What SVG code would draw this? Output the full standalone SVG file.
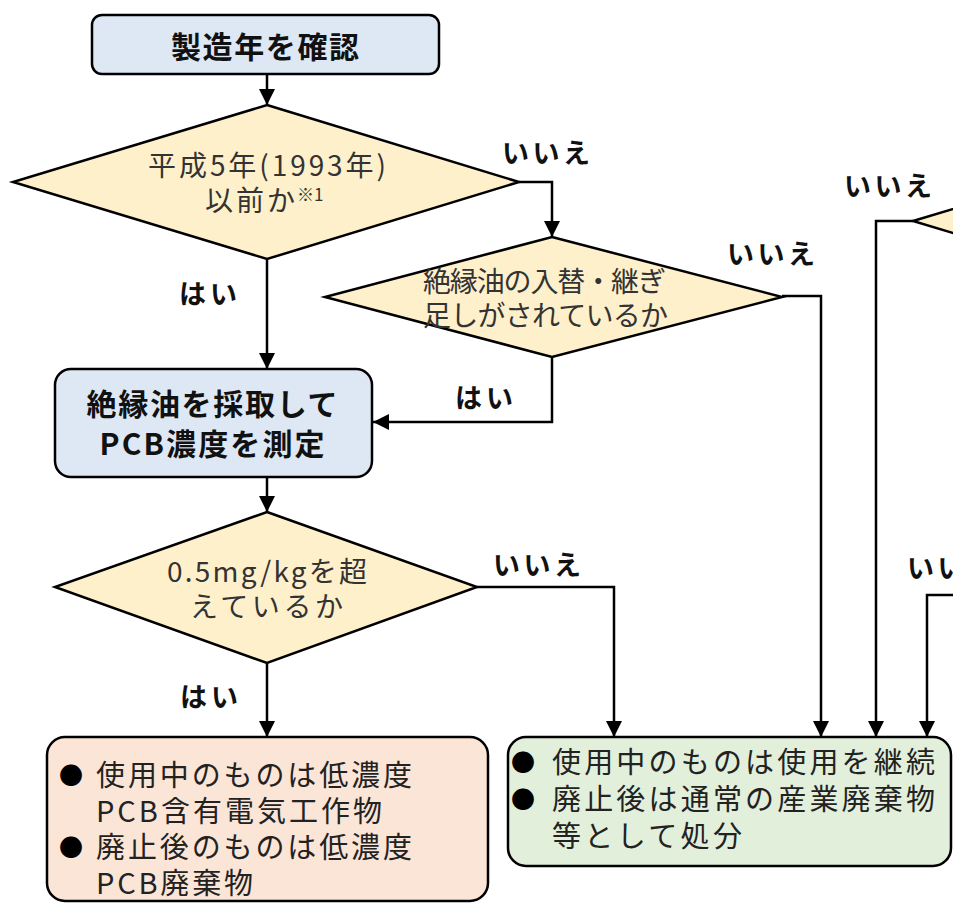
<svg xmlns="http://www.w3.org/2000/svg" width="953" height="903" viewBox="0 0 953 903">
<defs>
<marker id="ah" markerUnits="userSpaceOnUse" markerWidth="18" markerHeight="18" refX="16" refY="8" orient="auto">
<path d="M0,0 L16,8 L0,16 Z" fill="#000"/>
</marker>
<style>
.box{stroke:#000;stroke-width:2.5}
.blue{fill:#dde8f4}
.dia{fill:#fff0cc;stroke:#000;stroke-width:2.5}
.pink{fill:#fbe5d6}
.green{fill:#e2efda}
.conn path{fill:none;stroke:#000;stroke-width:2.5;marker-end:url(#ah)}
text{font-family:"Noto Sans CJK JP","Noto Sans",sans-serif;dominant-baseline:central}
.tb{font-weight:700;font-size:30px;fill:#111;text-anchor:middle}
.td{font-size:28px;fill:#333}
.sup{font-size:17px;fill:#333}
.tl{font-weight:700;font-size:27px;fill:#111;text-anchor:middle}
.tr{font-size:29px;fill:#222}
.bul{font-size:24px;fill:#000;text-anchor:middle}
</style>
</defs>
<rect width="953" height="903" fill="#fff"/>
<g class="conn" id="connectors">
<path d="M267,74 L267,105"/>
<path d="M519,182 L552,182 L552,237"/>
<path d="M267,259 L267,369"/>
<path d="M552,357 L552,422 L373,422"/>
<path d="M782,296 L821,296 L821,737"/>
<path d="M913,221 L876,221 L876,737"/>
<path d="M960,595 L927,595 L927,737"/>
<path d="M267,477 L267,512"/>
<path d="M477,587 L614,587 L614,737"/>
<path d="M267,663 L267,737"/>
</g>
<g id="labels">
<text class="tl" x="546" y="151" textLength="88">いいえ</text>
<text class="tl" x="771" y="252" textLength="88">いいえ</text>
<text class="tl" x="888" y="184" textLength="88">いいえ</text>
<text class="tl" x="951" y="566" textLength="88">いいえ</text>
<text class="tl" x="537" y="563" textLength="88">いいえ</text>
<text class="tl" x="208" y="292" textLength="58">はい</text>
<text class="tl" x="484" y="396" textLength="58">はい</text>
<text class="tl" x="209" y="695" textLength="58">はい</text>
</g>
<g id="n1">
<rect class="box blue" x="92" y="15" width="347" height="59" rx="10"/>
<text class="tb" x="265" y="45" textLength="188">製造年を確認</text>
</g>
<g id="d1">
<polygon class="dia" points="267,105 519,182 267,259 13,182"/>
<text class="td" x="148" y="164" textLength="238">平成5年(1993年)</text>
<text class="td" x="205" y="199" textLength="90">以前か</text>
<text class="sup" x="297" y="193">※1</text>
</g>
<g id="d2">
<polygon class="dia" points="552,237 782,297 552,357 325,297"/>
<text class="td" x="423" y="280" textLength="243">絶縁油の入替・継ぎ</text>
<text class="td" x="423" y="314" textLength="245">足しがされているか</text>
</g>
<g id="d3">
<polygon class="dia" points="913,221 1163,146 1413,221 1163,296"/>
</g>
<g id="n2">
<rect class="box blue" x="55" y="369" width="317" height="108" rx="16"/>
<text class="tb" x="212" y="402" textLength="251">絶縁油を採取して</text>
<text class="tb" x="212" y="442" textLength="225">PCB濃度を測定</text>
</g>
<g id="d4">
<polygon class="dia" points="267,512 477,587 267,663 55,587"/>
<text class="td" x="167" y="570" textLength="200">0.5mg/kgを超</text>
<text class="td" x="190" y="605" textLength="153">えているか</text>
</g>
<g id="n3">
<rect class="box pink" x="47" y="737" width="441" height="164" rx="18"/>
<text class="bul" x="71" y="773">●</text>
<text class="tr" x="96" y="773" textLength="316">使用中のものは低濃度</text>
<text class="tr" x="96" y="809" textLength="286">PCB含有電気工作物</text>
<text class="bul" x="71" y="845">●</text>
<text class="tr" x="96" y="845" textLength="316">廃止後のものは低濃度</text>
<text class="tr" x="96" y="881" textLength="157">PCB廃棄物</text>
</g>
<g id="n4">
<rect class="box green" x="508" y="737" width="443" height="129" rx="18"/>
<text class="bul" x="523" y="760">●</text>
<text class="tr" x="552" y="760" textLength="383">使用中のものは使用を継続</text>
<text class="bul" x="523" y="797">●</text>
<text class="tr" x="552" y="797" textLength="383">廃止後は通常の産業廃棄物</text>
<text class="tr" x="552" y="834" textLength="190">等として処分</text>
</g>
</svg>
